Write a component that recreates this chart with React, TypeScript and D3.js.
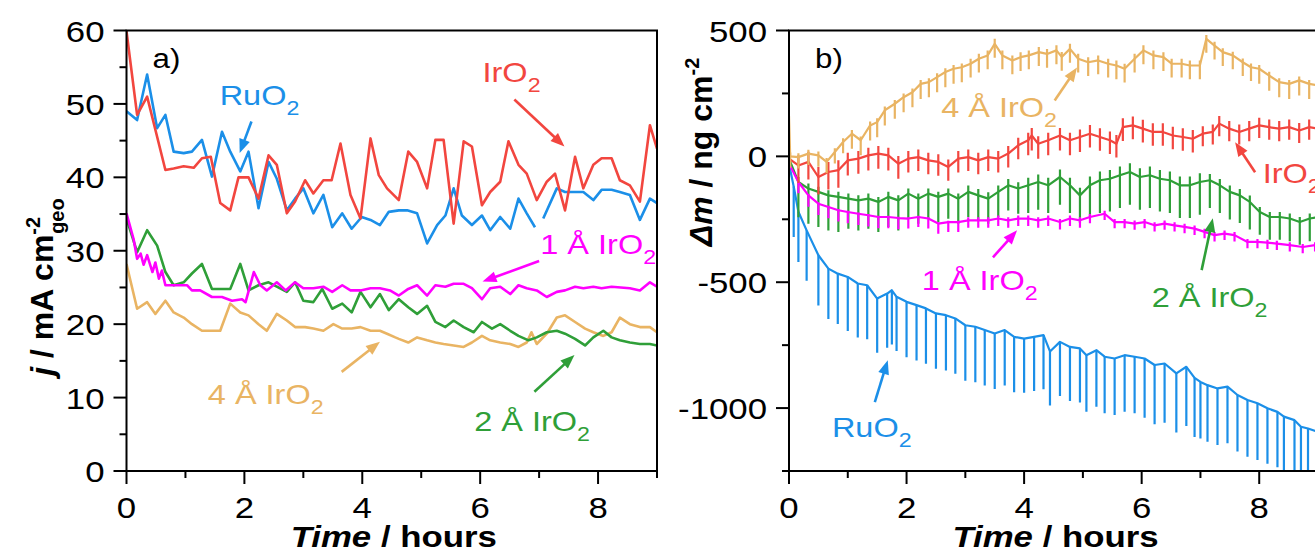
import * as d3 from "d3";

type Pt = [number, number];

const FONT = "'Liberation Sans', Arial, Helvetica, sans-serif";

// ---------- shared axis values ----------
const hourTicks = [0, 1, 2, 3, 4, 5, 6, 7, 8, 9];
const hourLabels = [0, 2, 4, 6, 8];
const currentTicks = [0, 5, 10, 15, 20, 25, 30, 35, 40, 45, 50, 55, 60];
const currentLabels = [0, 10, 20, 30, 40, 50, 60];
const massTicks = [-1250, -1000, -750, -500, -250, 0, 250, 500];
const massLabels = [-1000, -500, 0, 500];

const colors = {
  iro2: "#f2463f",
  ruo2: "#1b8fe8",
  one: "#ff00ff",
  two: "#2f9f38",
  four: "#e9b463",
};

// ---------- panel a: current density (mA cm-2 geo) ----------
const iro2Current: Pt[] = [
  [0, 59.9], [0.18, 48.5], [0.35, 51], [0.66, 41], [0.8, 41.2], [0.97, 41.5], [1.14, 41.3], [1.28, 42.6],
  [1.43, 42.8], [1.59, 36.5], [1.76, 35.5], [1.9, 40], [2.07, 40], [2.24, 37.1], [2.41, 43], [2.55, 41.7],
  [2.72, 35.1], [2.86, 36.7], [3.03, 39.6], [3.17, 37.8], [3.34, 39.6], [3.48, 39.6], [3.63, 44.6], [3.8, 37.6],
  [3.97, 34.4], [4.14, 45.3], [4.28, 40.3], [4.42, 38.5], [4.62, 36.9], [4.78, 43.5], [4.93, 42.1], [5.1, 38.5],
  [5.24, 45.1], [5.38, 45.1], [5.55, 33.7], [5.72, 44.9], [5.86, 44.2], [6.03, 36.2], [6.17, 38], [6.34, 39.4],
  [6.48, 44.9], [6.65, 41.7], [6.79, 40.5], [6.96, 36.9], [7.13, 39.4], [7.27, 40.5], [7.44, 35.5], [7.61, 42.8],
  [7.75, 38.5], [7.92, 41.7], [8.06, 42.6], [8.23, 42.6], [8.37, 39.6], [8.54, 38.9], [8.71, 36.7], [8.88, 47.1],
  [9, 43.9],
];

const ruo2Current: (Pt | null)[] = [
  [0, 49], [0.18, 47.8], [0.35, 54], [0.52, 46.7], [0.66, 48.5], [0.8, 43.5], [0.97, 43.3], [1.11, 43.5],
  [1.28, 45.1], [1.45, 40.1], [1.62, 46.2], [1.76, 43.5], [1.93, 40.8], [2.07, 43.5], [2.24, 35.8], [2.41, 42.1],
  [2.55, 39.8], [2.72, 35.5], [2.86, 37.1], [3.0, 38.5], [3.17, 35.1], [3.34, 37.6], [3.49, 33.2], [3.66, 35.1],
  [3.82, 33], [3.99, 34.6], [4.14, 34.2], [4.3, 33.5], [4.45, 35.3], [4.62, 35.5], [4.76, 35.5], [4.93, 35.1],
  [5.1, 31], [5.27, 33.5], [5.41, 34.8], [5.55, 38.5], [5.69, 34.8], [5.86, 33.5], [6.03, 34.8], [6.17, 32.8],
  [6.34, 34.6], [6.51, 33], [6.65, 37.1], [6.79, 35.1], [6.93, 33.2], null, [7.07, 34.4], [7.3, 38.5],
  [7.44, 38], [7.58, 38], [7.75, 38], [7.92, 36.9], [8.06, 38.3], [8.23, 38.3], [8.37, 38], [8.54, 37.6],
  [8.71, 34.2], [8.88, 37.1], [9, 36.5],
];

const oneACurrent: Pt[] = [
  [0, 35.1], [0.12, 31.6], [0.18, 28.9], [0.24, 29.6], [0.29, 28.1], [0.35, 29.4], [0.44, 27.1], [0.49, 28.4],
  [0.55, 26.2], [0.6, 27.3], [0.66, 25.3], [0.83, 25.3], [1.03, 25.3], [1.11, 24.6], [1.25, 24.6], [1.45, 23.7],
  [1.62, 23.7], [1.79, 23.2], [1.96, 23.4], [2.02, 23], [2.16, 27.1], [2.27, 25.3], [2.38, 24.6], [2.55, 25.7],
  [2.7, 24.6], [2.86, 25.7], [3.0, 24.9], [3.17, 24.9], [3.34, 25.1], [3.49, 24.4], [3.66, 25.3], [3.8, 24.6],
  [3.97, 24.6], [4.14, 24.9], [4.3, 24.9], [4.47, 24.6], [4.62, 23.9], [4.78, 24.8], [4.93, 25.3], [5.1, 23.9],
  [5.24, 25.3], [5.41, 25.1], [5.55, 25.5], [5.72, 25.5], [5.86, 24.9], [6.03, 23.4], [6.17, 24.9], [6.34, 25.1],
  [6.51, 24.1], [6.65, 25.3], [6.79, 24.9], [6.96, 24.6], [7.13, 23.7], [7.3, 24.4], [7.44, 24.6], [7.61, 25.1],
  [7.75, 24.9], [7.92, 25.1], [8.06, 24.9], [8.23, 25.1], [8.54, 24.9], [8.71, 24.6], [8.88, 25.7], [9, 25.1],
];

const twoACurrent: Pt[] = [
  [0, 34.4], [0.18, 29.8], [0.35, 32.8], [0.52, 30.7], [0.66, 27.1], [0.8, 25.3], [0.97, 25.7], [1.11, 26.9],
  [1.28, 28.2], [1.45, 24.8], [1.62, 24.8], [1.76, 24.8], [1.93, 28.2], [2.07, 24.6], [2.24, 25.3], [2.41, 25.7],
  [2.55, 25.1], [2.72, 24.4], [2.86, 25.7], [3.0, 23.2], [3.17, 23], [3.32, 24.8], [3.49, 22.1], [3.66, 22.8],
  [3.82, 21.6], [3.97, 24.4], [4.14, 22.3], [4.3, 24.1], [4.45, 21.9], [4.62, 23.4], [4.78, 22.3], [4.93, 21.4],
  [5.1, 22.5], [5.24, 20.3], [5.41, 19.6], [5.55, 20.5], [5.72, 19.6], [5.89, 18.9], [6.03, 20.3], [6.2, 19.4],
  [6.34, 20], [6.51, 19.1], [6.65, 18.4], [6.82, 17.8], [6.96, 18.2], [7.13, 18.9], [7.3, 19.1], [7.44, 18.7],
  [7.61, 18], [7.78, 17.1], [7.92, 18.2], [8.09, 19.1], [8.23, 18.2], [8.37, 17.8], [8.54, 17.5], [8.71, 17.3],
  [8.88, 17.3], [9, 17.1],
];

const fourACurrent: Pt[] = [
  [0, 28.2], [0.18, 22.1], [0.35, 23], [0.49, 21.4], [0.66, 23.2], [0.8, 21.6], [0.97, 20.9], [1.11, 20],
  [1.28, 19.1], [1.45, 19.1], [1.59, 19.1], [1.76, 22.8], [1.93, 21.6], [2.07, 21.2], [2.24, 20], [2.38, 19.1],
  [2.55, 21.4], [2.72, 20.5], [2.86, 19.6], [3.03, 19.6], [3.17, 19.4], [3.34, 19.1], [3.51, 20], [3.66, 19.4],
  [3.82, 19.4], [3.97, 19.6], [4.14, 19.1], [4.3, 19.1], [4.42, 18.7], [4.56, 18.2], [4.62, 18], [4.78, 17.5],
  [4.93, 18.2], [5.1, 17.8], [5.24, 17.5], [5.38, 17.3], [5.55, 17.1], [5.72, 16.9], [5.86, 17.5], [6.03, 18.4],
  [6.17, 17.8], [6.34, 17.5], [6.51, 17.3], [6.65, 16.9], [6.79, 17.5], [6.87, 18.9], [6.96, 17.3], [7.13, 18.7],
  [7.3, 20.9], [7.44, 21.2], [7.61, 20.3], [7.78, 19.4], [7.92, 18.9], [8.09, 18.4], [8.23, 18.9], [8.37, 20.9],
  [8.54, 20], [8.71, 19.6], [8.88, 19.6], [9, 18.9],
];

// ---------- panel b: mass change (ng cm-2) ----------
const ruo2Mass: Pt[] = [
  [0, -30], [0.08, -120], [0.16, -220], [0.3, -294], [0.5, -393], [0.67, -446], [0.83, -466], [1.0, -479],
  [1.17, -505], [1.33, -512], [1.5, -565], [1.67, -545], [1.75, -532], [1.83, -558], [2.0, -578], [2.17, -591],
  [2.33, -604], [2.5, -624], [2.67, -631], [2.83, -644], [3.0, -671], [3.17, -677], [3.33, -690], [3.5, -704],
  [3.67, -690], [3.83, -717], [4.0, -724], [4.17, -717], [4.33, -710], [4.44, -775], [4.61, -737], [4.78, -757],
  [4.95, -763], [5.06, -790], [5.23, -770], [5.37, -796], [5.54, -803], [5.71, -790], [5.88, -796], [6.05, -803],
  [6.22, -829], [6.39, -823], [6.59, -862], [6.76, -836], [6.9, -880], [7.0, -896], [7.12, -909], [7.29, -922],
  [7.46, -915], [7.63, -948], [7.8, -968], [7.97, -981], [8.14, -1001], [8.31, -1015], [8.42, -1034], [8.6, -1048],
  [8.71, -1074], [8.83, -1081], [9, -1095],
];

const oneAMass: Pt[] = [
  [0, -29], [0.16, -102], [0.33, -155], [0.5, -188], [0.67, -201], [0.84, -214], [1.0, -221], [1.18, -228],
  [1.35, -234], [1.52, -241], [1.69, -241], [1.86, -245], [2.03, -247], [2.2, -241], [2.37, -247], [2.54, -267],
  [2.71, -261], [2.88, -261], [3.05, -254], [3.22, -254], [3.39, -254], [3.56, -247], [3.73, -254], [3.9, -247],
  [4.07, -247], [4.24, -254], [4.41, -247], [4.61, -261], [4.78, -247], [4.95, -254], [5.12, -241], [5.37, -228],
  [5.54, -261], [5.71, -261], [5.88, -267], [6.05, -261], [6.22, -274], [6.39, -267], [6.56, -274], [6.73, -280],
  [6.9, -287], [7.07, -300], [7.24, -313], [7.41, -307], [7.58, -313], [7.8, -340], [7.97, -340], [8.14, -343],
  [8.3, -347], [8.52, -353], [8.74, -360], [8.95, -353],
];

const twoAMass: Pt[] = [
  [0, -9], [0.16, -102], [0.33, -128], [0.5, -141], [0.67, -155], [0.84, -161], [1.01, -168], [1.18, -175],
  [1.35, -168], [1.52, -181], [1.69, -161], [1.86, -175], [2.03, -148], [2.2, -168], [2.37, -148], [2.54, -161],
  [2.71, -148], [2.88, -168], [3.05, -141], [3.22, -155], [3.39, -168], [3.56, -141], [3.73, -115], [3.9, -128],
  [4.07, -115], [4.24, -102], [4.41, -115], [4.61, -82], [4.78, -115], [4.95, -155], [5.12, -115], [5.29, -95],
  [5.46, -89], [5.63, -75], [5.8, -62], [5.97, -82], [6.14, -75], [6.31, -89], [6.48, -95], [6.65, -115],
  [6.82, -115], [6.99, -102], [7.16, -95], [7.33, -115], [7.5, -141], [7.67, -155], [7.84, -181], [8.01, -221],
  [8.18, -241], [8.35, -241], [8.52, -247], [8.69, -261], [8.86, -247], [9, -241],
];

const iro2Mass: Pt[] = [
  [0, -9], [0.16, -36], [0.33, -22], [0.5, -82], [0.67, -62], [0.84, -55], [1.0, -16], [1.18, -9],
  [1.35, 4], [1.52, 11], [1.69, 4], [1.86, -29], [2.03, -9], [2.2, -3], [2.37, -16], [2.54, -22],
  [2.71, -42], [2.88, -9], [3.05, -3], [3.22, -16], [3.39, -3], [3.56, -9], [3.73, 11], [3.9, 44],
  [4.07, 64], [4.13, 83], [4.24, 50], [4.41, 64], [4.61, 83], [4.78, 64], [4.95, 77], [5.12, 90],
  [5.29, 77], [5.46, 64], [5.57, 50], [5.68, 116], [5.85, 123], [6.02, 110], [6.19, 97], [6.36, 97],
  [6.53, 83], [6.7, 77], [6.87, 70], [7.04, 90], [7.21, 97], [7.32, 130], [7.49, 110], [7.66, 97],
  [7.83, 110], [8.0, 123], [8.17, 116], [8.34, 110], [8.51, 116], [8.68, 103], [8.85, 116], [9, 110],
];

const fourAMass: Pt[] = [
  [0, 160], [0.02, 0], [0.16, -3], [0.33, 11], [0.5, 4], [0.64, -22], [0.78, 17], [0.92, 57],
  [1.07, 90], [1.22, 64], [1.38, 123], [1.5, 136], [1.63, 183], [1.8, 209], [1.95, 235], [2.1, 255],
  [2.24, 288], [2.38, 295], [2.52, 315], [2.66, 335], [2.8, 348], [2.94, 354], [3.09, 368], [3.23, 388],
  [3.38, 401], [3.5, 447], [3.63, 401], [3.8, 381], [3.94, 394], [4.08, 401], [4.25, 414], [4.39, 407],
  [4.55, 421], [4.64, 395], [4.78, 427], [4.92, 388], [5.09, 374], [5.26, 381], [5.43, 368], [5.57, 361],
  [5.71, 348], [5.88, 388], [6.03, 421], [6.2, 401], [6.37, 394], [6.51, 368], [6.68, 368], [6.82, 361],
  [6.99, 361], [7.1, 467], [7.24, 440], [7.38, 414], [7.55, 401], [7.72, 374], [7.86, 354], [8.0, 348],
  [8.17, 321], [8.34, 295], [8.51, 288], [8.68, 302], [8.85, 288], [9, 282],
];

// spike excursions (ng cm-2), one value per hour of the run
const ruo2SpikeDown = [200, 215, 220, 220, 215, 225, 235, 225, 220];
const ruo2SpikeUp = [0, 0, 0, 0, 0, 0, 0, 0, 0];
const oneASpikeDown = [45, 45, 40, 30, 30, 25, 25, 25, 25];
const oneASpikeUp = [5, 5, 5, 12, 12, 12, 12, 12, 12];
const twoASpikeDown = [140, 120, 100, 100, 110, 130, 130, 110, 90];
const twoASpikeUp = [20, 20, 20, 25, 30, 35, 35, 25, 20];
const iro2SpikeDown = [70, 60, 55, 55, 60, 55, 55, 50, 50];
const iro2SpikeUp = [40, 30, 30, 30, 30, 35, 35, 30, 30];
const fourASpikeDown = [45, 60, 60, 55, 55, 55, 55, 55, 60];
const fourASpikeUp = [15, 15, 15, 20, 20, 20, 20, 15, 15];

type Note = {
  text: string;
  color: string;
  at: Pt;
  from: Pt;
  to: Pt;
};

const notesA: Note[] = [
  { text: "RuO", color: colors.ruo2, at: [1.58, 49.8], from: [2.12, 47.6], to: [1.92, 43.3] },
  { text: "IrO", color: colors.iro2, at: [6.04, 53], from: [6.58, 50.6], to: [7.43, 44.2] },
  { text: "1 Å IrO", color: colors.one, at: [7.02, 29.5], from: [7.0, 28.6], to: [6.04, 25.8] },
  { text: "2 Å IrO", color: colors.two, at: [5.9, 5.4], from: [6.92, 10.8], to: [7.6, 15.8] },
  { text: "4 Å IrO", color: colors.four, at: [1.38, 9.1], from: [3.65, 13.5], to: [4.3, 17.6] },
];

const notesB: Note[] = [
  { text: "4 Å IrO", color: colors.four, at: [2.59, 155], from: [4.52, 222], to: [4.9, 353] },
  { text: "IrO", color: colors.iro2, at: [8.06, -107], from: [7.93, -63], to: [7.59, 56] },
  { text: "1 Å IrO", color: colors.one, at: [2.26, -532], from: [3.47, -401], to: [3.88, -294] },
  { text: "2 Å IrO", color: colors.two, at: [6.17, -599], from: [7.02, -452], to: [7.21, -246] },
  { text: "RuO", color: colors.ruo2, at: [0.73, -1115], from: [1.46, -976], to: [1.68, -810] },
];

const SX = 1.16; // the figure's text is slightly wide

function WideText(props: {
  x: number;
  y: number;
  size: number;
  anchor?: string;
  fill?: string;
  weight?: string;
  children: any;
}) {
  const { x, y, size, anchor = "start", fill = "#000", weight = "normal", children } = props;
  return (
    <text
      transform={`translate(${x},${y}) scale(${SX},1)`}
      textAnchor={anchor}
      fontSize={size}
      fontFamily={FONT}
      fontWeight={weight}
      fill={fill}
    >
      {children}
    </text>
  );
}

function Arrow({ x1, y1, x2, y2, color }: { x1: number; y1: number; x2: number; y2: number; color: string }) {
  const dx = x2 - x1;
  const dy = y2 - y1;
  const len = Math.hypot(dx, dy);
  const ux = dx / len;
  const uy = dy / len;
  const hl = 14;
  const hw = 5.5;
  const bx = x2 - ux * hl;
  const by = y2 - uy * hl;
  const pts = [
    [x2, y2],
    [bx - uy * hw, by + ux * hw],
    [bx + uy * hw, by - ux * hw],
  ]
    .map((p) => p.join(","))
    .join(" ");
  return (
    <g>
      <line x1={x1} y1={y1} x2={bx + ux * 2} y2={by + uy * 2} stroke={color} strokeWidth={2.6} />
      <polygon points={pts} fill={color} />
    </g>
  );
}

type Spiky = { data: Pt[]; color: string; down: number[]; up: number[] };
type Plain = { data: (Pt | null)[]; color: string };

function Panel(props: {
  id: string;
  left: number;
  right: number;
  domainY: [number, number];
  yTicks: number[];
  yLabels: number[];
  lines: Plain[];
  spiky: Spiky[];
  notes: Note[];
  letter: string;
  lineWidth: number;
}) {
  const { id, left, right, domainY, yTicks, yLabels, lines, spiky, notes, letter, lineWidth } = props;
  const top = 30.5;
  const bottom = 471;
  const x = d3.scaleLinear().domain([0, 9]).range([left, right]);
  const y = d3.scaleLinear().domain(domainY).range([bottom, top]);
  const line = d3
    .line<Pt | null>()
    .defined((d) => d !== null)
    .x((d) => x((d as Pt)[0]))
    .y((d) => y((d as Pt)[1]));

  const spikePath = (s: Spiky) =>
    s.data
      .slice(1)
      .map(([t, v]) => {
        const h = Math.min(8, Math.floor(t));
        return `M${x(t)},${y(v + s.up[h])}V${y(v - s.down[h])}`;
      })
      .join("");

  return (
    <g>
      <defs>
        <clipPath id={id}>
          <rect x={left} y={top} width={right - left} height={bottom - top} />
        </clipPath>
      </defs>
      <g clipPath={`url(#${id})`}>
        {spiky.map((s, i) => (
          <g key={"s" + i}>
            <path d={spikePath(s)} stroke={s.color} strokeWidth={2.2} fill="none" />
            <path d={line(s.data) || ""} stroke={s.color} strokeWidth={lineWidth} fill="none" strokeLinejoin="round" />
          </g>
        ))}
        {lines.map((s, i) => (
          <path
            key={"l" + i}
            d={line(s.data) || ""}
            stroke={s.color}
            strokeWidth={lineWidth}
            fill="none"
            strokeLinejoin="round"
          />
        ))}
      </g>

      {/* frame */}
      <rect x={left} y={top} width={right - left} height={bottom - top} fill="none" stroke="#000" strokeWidth={2} />

      {/* x ticks */}
      {hourTicks.map((t) => (
        <line
          key={"xt" + t}
          x1={x(t)}
          x2={x(t)}
          y1={bottom}
          y2={bottom + (hourLabels.includes(t) ? 13 : 7)}
          stroke="#000"
          strokeWidth={2}
        />
      ))}
      {hourLabels.map((t) => (
        <WideText key={"xl" + t} x={x(t)} y={518} size={30} anchor="middle">
          {t}
        </WideText>
      ))}

      {/* y ticks */}
      {yTicks.map((v) => (
        <line
          key={"yt" + v}
          x1={left - (yLabels.includes(v) ? 13 : 7)}
          x2={left}
          y1={y(v)}
          y2={y(v)}
          stroke="#000"
          strokeWidth={2}
        />
      ))}
      {yLabels.map((v) => (
        <WideText key={"yl" + v} x={left - 22} y={y(v) + 11} size={30} anchor="end">
          {v}
        </WideText>
      ))}

      <WideText x={left + 26} y={68} size={27}>
        {letter}
      </WideText>

      {/* axis title */}
      <WideText x={(left + Math.min(right, 1320)) / 2 + 2} y={547} size={30} anchor="middle" weight="bold">
        <tspan fontStyle="italic">Time</tspan> / hours
      </WideText>

      {notes.map((n, i) => (
        <g key={"n" + i}>
          <Arrow x1={x(n.from[0])} y1={y(n.from[1])} x2={x(n.to[0])} y2={y(n.to[1])} color={n.color} />
          <WideText x={x(n.at[0])} y={y(n.at[1])} size={28} fill={n.color}>
            {n.text}
            <tspan fontSize={20} dy={10}>
              2
            </tspan>
          </WideText>
        </g>
      ))}
    </g>
  );
}

export default function App() {
  return (
    <svg
      width={1315}
      height={554}
      style={{ position: "absolute", left: 0, top: 0, background: "#fff" }}
      fontFamily={FONT}
    >
      <rect width={1315} height={554} fill="#fff" />
      <Panel
        id="clipA"
        left={126.5}
        right={657}
        domainY={[0, 60]}
        yTicks={currentTicks}
        yLabels={currentLabels}
        lines={[
          { data: fourACurrent, color: colors.four },
          { data: twoACurrent, color: colors.two },
          { data: oneACurrent, color: colors.one },
          { data: ruo2Current, color: colors.ruo2 },
          { data: iro2Current, color: colors.iro2 },
        ]}
        spiky={[]}
        notes={notesA}
        letter="a)"
        lineWidth={2.6}
      />
      <Panel
        id="clipB"
        left={789}
        right={1318}
        domainY={[-1250, 500]}
        yTicks={massTicks}
        yLabels={massLabels}
        lines={[]}
        spiky={[
          { data: ruo2Mass, color: colors.ruo2, down: ruo2SpikeDown, up: ruo2SpikeUp },
          { data: twoAMass, color: colors.two, down: twoASpikeDown, up: twoASpikeUp },
          { data: oneAMass, color: colors.one, down: oneASpikeDown, up: oneASpikeUp },
          { data: iro2Mass, color: colors.iro2, down: iro2SpikeDown, up: iro2SpikeUp },
          { data: fourAMass, color: colors.four, down: fourASpikeDown, up: fourASpikeUp },
        ]}
        notes={notesB}
        letter="b)"
        lineWidth={2.2}
      />

      {/* y axis titles */}
      <text transform="translate(53,287) rotate(-90)" textAnchor="middle" fontSize={32} fontWeight="bold" fontFamily={FONT}>
        <tspan fontStyle="italic">j</tspan> / mA cm
        <tspan fontSize={20} dy={-13}>
          -2
        </tspan>
        <tspan fontSize={20} dx={-17} dy={24}>
          geo
        </tspan>
      </text>
      <text transform="translate(712,152) rotate(-90)" textAnchor="middle" fontSize={32} fontWeight="bold" fontFamily={FONT}>
        <tspan fontStyle="italic">Δm</tspan> / ng cm
        <tspan fontSize={20} dy={-13}>
          -2
        </tspan>
      </text>
    </svg>
  );
}
